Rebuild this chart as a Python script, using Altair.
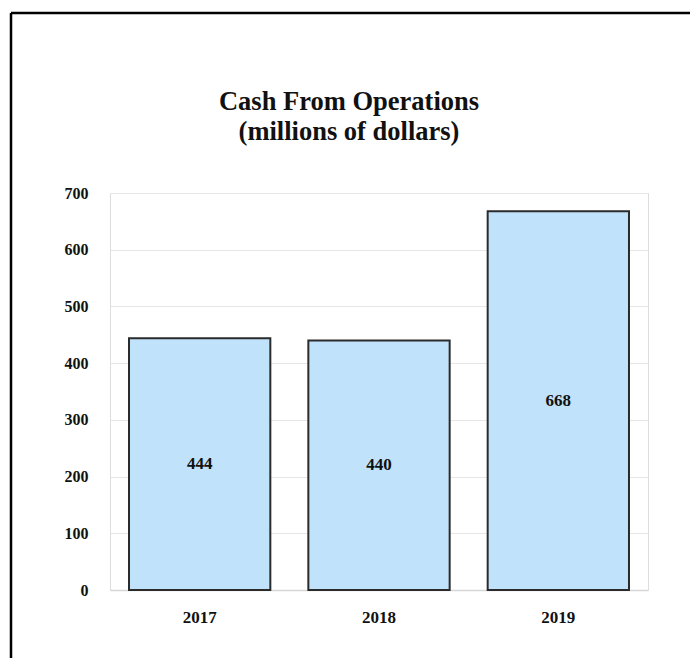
import altair as alt
import pandas as pd

years = ["2017", "2018", "2019"]
cash = [444, 440, 668]
y_ticks = [0, 100, 200, 300, 400, 500, 600, 700]

df = pd.DataFrame({"year": years, "value": cash})
FONT = "Liberation Serif"

base = alt.Chart(df)
one = base.transform_filter("datum.year == '2017'")

frame_top = one.mark_rule(color="#000000", strokeWidth=2.5).encode(
    x=alt.value(-99), x2=alt.value(580), y=alt.value(-180),
)
frame_left = one.mark_rule(color="#000000", strokeWidth=2.5).encode(
    x=alt.value(-99), y=alt.value(-180), y2=alt.value(467),
)

bars = base.mark_bar(
    color="#C0E2FB", stroke="#2b2b2b", strokeWidth=2
).encode(
    x=alt.X("year:N", sort=years,
            scale=alt.Scale(paddingInner=0.212, paddingOuter=0.106),
            axis=alt.Axis(title=None, labelAngle=0, labelFont=FONT,
                          labelFontWeight="bold", labelFontSize=17,
                          labelColor="#111111", labelPadding=19,
                          ticks=False, domain=True, domainColor="#d6d6d6",
                          domainWidth=1.5, grid=False)),
    y=alt.Y("value:Q",
            scale=alt.Scale(domain=[0, 700], nice=False),
            axis=alt.Axis(title=None, values=y_ticks, labelFont=FONT,
                          labelFontWeight="bold", labelFontSize=16,
                          labelColor="#111111", labelPadding=22,
                          ticks=False, domain=False, grid=True,
                          gridColor="#e6e6e6", gridWidth=1.2)),
)

labels = base.transform_calculate(mid="datum.value / 2").mark_text(
    font=FONT, fontWeight="bold", fontSize=17, color="#111111"
).encode(
    x=alt.X("year:N", sort=years),
    y=alt.Y("mid:Q"),
    text=alt.Text("value:Q"),
)

chart = alt.layer(bars, labels, frame_top, frame_left).properties(
    width=538,
    height=397,
    padding={"left": 102, "top": 185, "right": 42, "bottom": 68},
    autosize=alt.AutoSizeParams(type="none"),
    title=alt.TitleParams(
        text=["Cash From Operations", "(millions of dollars)"],
        font=FONT, fontWeight="bold", fontSize=26.5, color="#111111",
        lineHeight=30, anchor="middle", frame="group", dx=-30, offset=-134,
    ),
).configure_view(stroke=None).configure(background="#ffffff")

chart.save("out.html", embed_options={"renderer": "svg", "actions": False})
